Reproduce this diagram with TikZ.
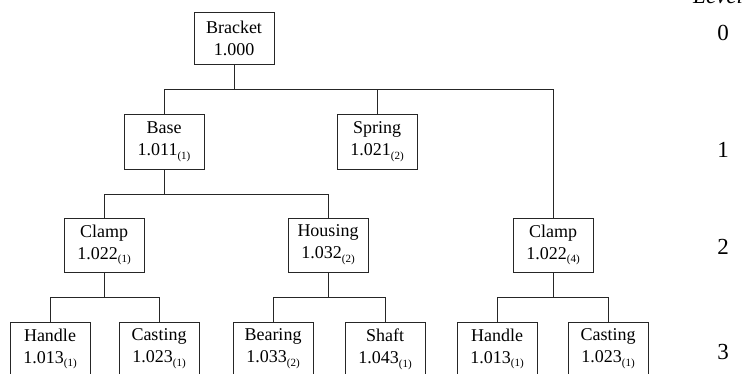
\documentclass[tikz,border=0pt]{standalone}
\usepackage{fontspec}
\setmainfont{Liberation Serif}
\newcommand{\partsub}[1]{\raisebox{-0.45ex}{\fontsize{11}{11}\selectfont(#1)}}
\begin{document}
\begin{tikzpicture}[x=1pt,y=-1pt,
  part/.style={draw=black!85, line width=0.9pt, minimum width=80pt, minimum height=54pt,
    inner sep=0pt, align=center, font=\fontsize{18}{22}\selectfont},
  link/.style={draw=black!85, line width=0.9pt},
  lvl/.style={font=\fontsize{23}{23}\selectfont, inner sep=0pt}]
\useasboundingbox (0,0) rectangle (743,374);
\clip (0,0) rectangle (743,374);
% level 0
\node[part, minimum height=52pt] (bracket) at (234,38) {Bracket\\1.000};
% level 1
\node[part, minimum height=55pt] (base) at (164,141.5) {Base\\1.011\partsub{1}};
\node[part, minimum height=55pt] (spring) at (377,141.5) {Spring\\1.021\partsub{2}};
% level 2
\node[part] (clampA) at (104,245) {Clamp\\1.022\partsub{1}};
\node[part] (housing) at (328,245) {Housing\\1.032\partsub{2}};
\node[part] (clampB) at (553,245) {Clamp\\1.022\partsub{4}};
% level 3
\node[part] (handleA) at (50,349) {Handle\\1.013\partsub{1}};
\node[part] (castingA) at (159,349) {Casting\\1.023\partsub{1}};
\node[part] (bearing) at (273,349) {Bearing\\1.033\partsub{2}};
\node[part] (shaft) at (385,349) {Shaft\\1.043\partsub{1}};
\node[part] (handleB) at (497,349) {Handle\\1.013\partsub{1}};
\node[part] (castingB) at (608,349) {Casting\\1.023\partsub{1}};
% bus heights
\coordinate (busA) at (0,89);
\coordinate (busB) at (0,194);
\coordinate (busC) at (0,297);
% connectors level 0 -> 1
\draw[link] (bracket.south) -- (bracket.south |- busA);
\draw[link] (base.north) |- (clampB.north |- busA) -- (clampB.north);
\draw[link] (spring.north) -- (spring.north |- busA);
% level 1 -> 2
\draw[link] (base.south) -- (base.south |- busB);
\draw[link] (clampA.north) |- (housing.north |- busB) -- (housing.north);
% level 2 -> 3
\draw[link] (clampA.south) -- (clampA.south |- busC);
\draw[link] (handleA.north) |- (castingA.north |- busC) -- (castingA.north);
\draw[link] (housing.south) -- (housing.south |- busC);
\draw[link] (bearing.north) |- (shaft.north |- busC) -- (shaft.north);
\draw[link] (clampB.south) -- (clampB.south |- busC);
\draw[link] (handleB.north) |- (castingB.north |- busC) -- (castingB.north);
% level labels
\node[lvl, anchor=base west, font=\fontsize{23}{23}\selectfont\itshape] (levelhead) at (693,4) {Level};
\node[lvl] (lv0) at (723,33) {0};
\node[lvl] (lv1) at (723,150) {1};
\node[lvl] (lv2) at (723,247) {2};
\node[lvl] (lv3) at (723,352) {3};
\end{tikzpicture}
\end{document}
